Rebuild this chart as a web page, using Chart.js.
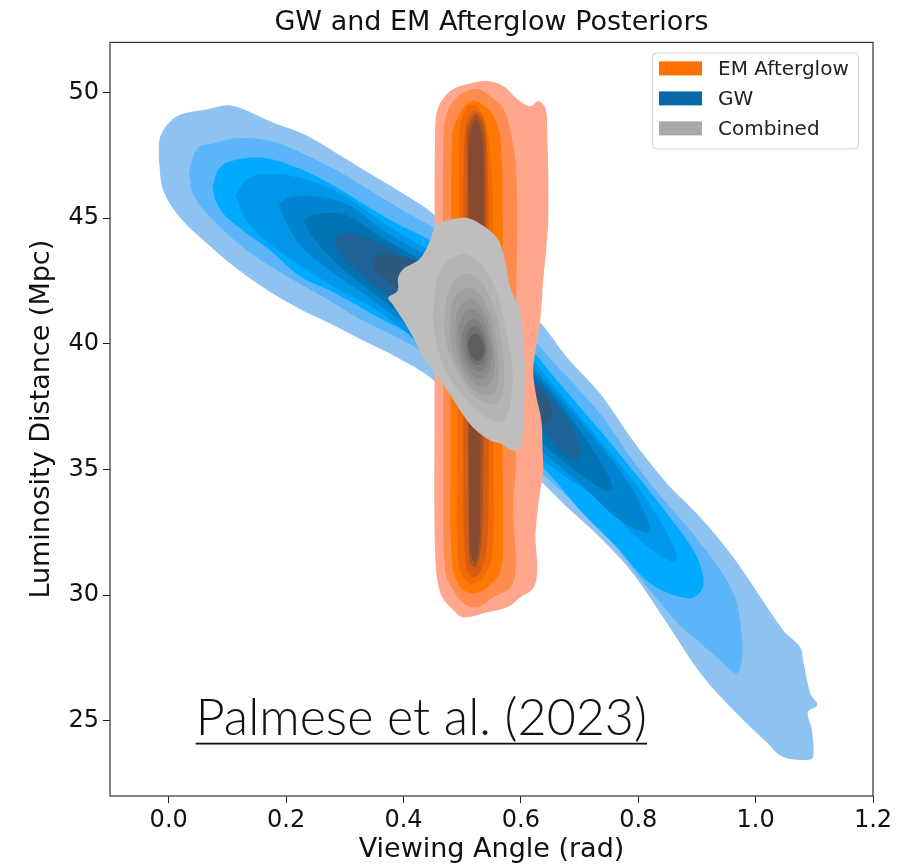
<!DOCTYPE html>
<html>
<head>
<meta charset="utf-8">
<script src="https://cdn.jsdelivr.net/npm/chart.js@4.4.0/dist/chart.umd.min.js"></script>
<style>
  html, body { margin: 0; padding: 0; background: #fff; }
</style>
</head>
<body>
<canvas id="kde" width="908" height="868"></canvas>
<script>
const xTicks = [0, 0.2, 0.4, 0.6, 0.8, 1.0, 1.2];
const yTicks = [25, 30, 35, 40, 45, 50];

// GW posterior contours, outermost level first: [angle (rad), distance (Mpc)]
const gw1 = [[-0.017,47.40],[-0.014,48.27],[0.007,48.95],[0.029,49.19],[0.066,49.34],[0.100,49.50],[0.123,49.38],[0.179,48.79],[0.230,48.35],[0.288,47.56],[0.344,46.76],[0.400,45.97],[0.451,45.17],[0.514,43.70],[0.565,42.51],[0.638,40.72],[0.679,39.45],[0.735,38.02],[0.791,36.15],[0.849,34.44],[0.906,33.09],[0.962,31.50],[1.047,28.60],[1.076,27.92],[1.081,27.40],[1.093,26.09],[1.105,25.62],[1.089,25.34],[1.096,24.62],[1.098,23.55],[1.088,23.43],[1.047,23.55],[1.020,24.11],[0.962,25.42],[0.906,26.89],[0.849,28.88],[0.791,30.86],[0.735,32.29],[0.679,33.49],[0.638,34.44],[0.565,36.03],[0.514,37.14],[0.446,38.65],[0.390,39.45],[0.332,40.12],[0.276,40.80],[0.220,41.43],[0.162,42.23],[0.106,43.18],[0.060,44.10],[0.020,45.01],[-0.009,46.09]];
const gw2 = [[0.034,46.80],[0.049,47.79],[0.077,47.99],[0.123,48.19],[0.174,48.07],[0.230,47.56],[0.288,46.88],[0.344,46.09],[0.400,45.29],[0.451,44.61],[0.514,43.22],[0.582,41.32],[0.638,39.73],[0.735,37.22],[0.791,35.35],[0.849,33.64],[0.906,32.06],[0.962,30.07],[0.977,28.20],[0.974,27.09],[0.965,26.89],[0.940,27.40],[0.906,28.08],[0.866,28.92],[0.820,30.19],[0.735,32.65],[0.638,34.80],[0.565,36.43],[0.480,38.33],[0.434,39.61],[0.390,40.24],[0.322,41.04],[0.254,41.99],[0.186,42.91],[0.128,43.82],[0.077,44.89],[0.043,45.89]];
const gw3 = [[0.075,46.28],[0.085,46.96],[0.106,47.28],[0.162,47.40],[0.220,47.00],[0.276,46.36],[0.332,45.57],[0.390,44.77],[0.446,44.10],[0.514,42.71],[0.582,40.92],[0.638,39.21],[0.735,36.55],[0.791,34.96],[0.849,33.25],[0.894,31.78],[0.911,30.70],[0.906,30.11],[0.883,29.87],[0.820,30.47],[0.764,31.90],[0.706,33.25],[0.638,35.08],[0.565,36.63],[0.497,38.25],[0.407,40.40],[0.361,41.00],[0.276,42.11],[0.225,42.67],[0.174,43.70],[0.100,45.01],[0.080,45.69]];
const gw4 = [[0.114,45.89],[0.131,46.48],[0.157,46.76],[0.225,46.60],[0.293,45.97],[0.361,44.89],[0.480,43.10],[0.565,41.00],[0.638,38.85],[0.735,36.15],[0.791,34.56],[0.837,32.97],[0.866,31.58],[0.860,31.30],[0.809,32.06],[0.735,33.76],[0.638,35.35],[0.565,37.03],[0.480,39.01],[0.361,41.24],[0.293,42.11],[0.225,43.10],[0.165,44.10],[0.131,44.97]];
const gw5 = [[0.187,45.57],[0.208,45.85],[0.259,45.85],[0.310,45.49],[0.361,44.58],[0.480,42.83],[0.565,40.52],[0.638,38.61],[0.735,35.95],[0.786,34.36],[0.820,32.77],[0.815,32.49],[0.769,32.97],[0.701,34.44],[0.638,35.67],[0.565,37.34],[0.480,39.33],[0.361,41.51],[0.276,42.91],[0.225,43.90],[0.199,44.89]];
const gw6 = [[0.230,44.89],[0.250,45.17],[0.301,45.13],[0.361,44.26],[0.480,42.51],[0.565,40.20],[0.638,38.41],[0.701,36.55],[0.744,34.96],[0.756,34.28],[0.749,34.12],[0.718,34.52],[0.667,35.43],[0.638,35.99],[0.565,37.66],[0.480,39.65],[0.361,41.80],[0.293,43.06],[0.250,44.10]];
const gw7 = [[0.281,44.22],[0.306,44.46],[0.361,43.98],[0.480,42.19],[0.565,39.92],[0.638,38.21],[0.676,37.14],[0.698,36.15],[0.701,35.55],[0.696,35.35],[0.672,35.63],[0.638,36.55],[0.565,37.98],[0.480,39.96],[0.361,42.11],[0.310,43.14],[0.289,43.70]];
const gw8 = [[0.344,43.38],[0.369,43.58],[0.429,43.22],[0.480,42.11],[0.565,39.73],[0.638,38.02],[0.654,37.34],[0.647,36.86],[0.616,36.94],[0.565,38.14],[0.480,40.28],[0.429,41.51],[0.378,42.43],[0.352,42.91]];

// EM afterglow contours
const em1 = [[0.453,43.70],[0.454,48.47],[0.458,49.34],[0.471,49.86],[0.485,50.14],[0.509,50.34],[0.543,50.46],[0.570,50.26],[0.594,49.74],[0.616,49.46],[0.630,49.66],[0.642,49.38],[0.645,48.47],[0.647,45.17],[0.643,43.70],[0.638,42.51],[0.633,40.92],[0.625,39.73],[0.621,38.93],[0.626,37.94],[0.635,36.94],[0.637,35.75],[0.638,34.96],[0.633,34.16],[0.628,33.25],[0.625,32.29],[0.628,30.98],[0.621,30.27],[0.599,29.91],[0.577,29.51],[0.543,29.31],[0.502,29.11],[0.485,29.39],[0.463,30.07],[0.454,31.66],[0.453,37.74]];
const em2 = [[0.468,41.71],[0.468,48.07],[0.475,49.26],[0.497,49.94],[0.526,50.14],[0.548,49.86],[0.570,49.38],[0.582,48.47],[0.591,47.16],[0.594,44.89],[0.592,41.71],[0.591,37.74],[0.591,34.96],[0.587,33.64],[0.591,30.98],[0.582,30.31],[0.553,29.91],[0.526,29.51],[0.502,29.67],[0.485,30.19],[0.471,30.98],[0.468,34.96]];
const em3 = [[0.482,41.71],[0.483,48.19],[0.492,48.99],[0.514,49.66],[0.534,49.54],[0.551,49.15],[0.565,48.19],[0.569,44.89],[0.569,37.74],[0.569,34.96],[0.570,32.29],[0.565,30.98],[0.543,30.31],[0.519,30.07],[0.497,30.31],[0.483,31.26],[0.480,34.96]];
const em4 = [[0.494,41.71],[0.495,46.48],[0.497,48.75],[0.511,49.46],[0.528,49.38],[0.543,48.47],[0.551,46.48],[0.553,41.71],[0.553,34.96],[0.551,31.66],[0.536,30.70],[0.511,30.47],[0.494,31.26],[0.492,34.96]];
const em5 = [[0.502,45.69],[0.506,48.67],[0.519,49.26],[0.534,49.07],[0.541,48.27],[0.545,45.69],[0.545,34.96],[0.543,32.29],[0.534,31.10],[0.519,30.70],[0.506,31.26],[0.502,34.96]];
const em6 = [[0.509,47.28],[0.509,48.47],[0.523,49.15],[0.536,48.67],[0.540,47.28],[0.540,41.71],[0.536,34.96],[0.533,32.17],[0.524,31.14],[0.514,31.26],[0.511,32.17],[0.509,41.71]];
const em7 = [[0.511,45.69],[0.512,48.07],[0.523,48.95],[0.534,48.27],[0.536,45.69],[0.534,41.71],[0.531,34.96],[0.529,31.98],[0.521,31.30],[0.514,31.78],[0.512,34.96],[0.511,41.71]];

// combined posterior contours
const comb1 = [[0.454,44.77],[0.485,44.97],[0.509,45.01],[0.531,44.77],[0.553,44.38],[0.565,43.98],[0.574,43.18],[0.582,42.23],[0.599,41.32],[0.604,40.00],[0.608,38.65],[0.604,37.34],[0.603,36.27],[0.599,35.87],[0.587,35.75],[0.565,36.03],[0.548,36.15],[0.519,36.66],[0.497,37.34],[0.475,38.14],[0.451,38.93],[0.434,39.45],[0.417,40.24],[0.400,40.92],[0.381,41.59],[0.374,41.83],[0.390,42.11],[0.391,42.63],[0.400,42.99],[0.424,43.30],[0.434,43.58],[0.443,43.98]];
const comb2 = [[0.475,43.30],[0.502,43.58],[0.526,43.30],[0.548,42.63],[0.565,41.59],[0.577,40.24],[0.586,38.93],[0.582,37.62],[0.570,36.94],[0.543,37.06],[0.514,37.62],[0.485,38.41],[0.463,39.45],[0.451,40.80],[0.454,42.11],[0.463,42.91]];
const comb3 = [[0.485,42.51],[0.509,42.79],[0.531,42.51],[0.548,41.83],[0.562,40.80],[0.570,39.45],[0.570,38.14],[0.557,37.62],[0.531,37.74],[0.509,38.25],[0.485,39.21],[0.471,40.24],[0.471,41.43],[0.477,42.11]];
const comb4 = [[0.492,42.03],[0.511,42.23],[0.531,41.95],[0.546,41.24],[0.558,40.24],[0.562,39.13],[0.558,38.21],[0.543,37.94],[0.521,38.14],[0.500,38.77],[0.483,39.73],[0.480,40.84],[0.483,41.63]];
const comb5 = [[0.499,41.59],[0.514,41.80],[0.531,41.51],[0.545,40.84],[0.553,40.00],[0.555,39.05],[0.548,38.45],[0.533,38.29],[0.516,38.53],[0.500,39.09],[0.490,39.92],[0.489,40.84],[0.492,41.35]];
const comb6 = [[0.504,41.24],[0.517,41.39],[0.533,41.12],[0.543,40.52],[0.550,39.81],[0.548,39.09],[0.540,38.69],[0.526,38.61],[0.512,38.89],[0.500,39.41],[0.495,40.12],[0.495,40.76]];
const comb7 = [[0.509,40.88],[0.521,41.00],[0.533,40.72],[0.541,40.20],[0.545,39.65],[0.541,39.17],[0.531,38.89],[0.519,38.97],[0.509,39.29],[0.502,39.81],[0.500,40.36]];
const comb8 = [[0.512,40.60],[0.524,40.68],[0.534,40.40],[0.540,39.96],[0.540,39.53],[0.533,39.21],[0.523,39.17],[0.512,39.41],[0.507,39.85],[0.507,40.28]];
const comb9 = [[0.516,40.36],[0.526,40.40],[0.534,40.12],[0.538,39.77],[0.534,39.45],[0.526,39.33],[0.516,39.49],[0.511,39.81],[0.511,40.12]];

const gwColors = ['#8dc2f1', '#5cb5f9', '#00aaff', '#0097ea', '#0084cf', '#0073b3', '#1f6499', '#2c5a7f'];
const emColors = ['#ffa68c', '#ff8c4e', '#ff7804', '#f06a06', '#d45d13', '#a8521f', '#874a31'];
const combColors = ['#bebebe', '#b4b4b4', '#aaaaaa', '#a0a0a0', '#959595', '#8a8a8a', '#7e7e7e', '#707070', '#5d5d5d'];

const legendLabels = ['EM Afterglow', 'GW', 'Combined'];
const legendColors = ['#ff7000', '#0a69a8', '#a9a9a9'];
const note = 'Palmese et al. (2023)';

let datasets = [];

function addLevels(levels, colors, name) {
    levels.forEach((pts, i) => {
        let closed = pts.concat([pts[0]]);
        datasets.push({
            label: name + ' ' + (i + 1),
            data: closed.map(p => ({x: p[0], y: p[1]})),
            showLine: true,
            fill: 'shape',
            backgroundColor: colors[i],
            borderWidth: 0,
            pointRadius: 0,
            pointHoverRadius: 0,
            tension: 0.35,
            order: -datasets.length   // later levels on top
        });
    });
}

addLevels([gw1, gw2, gw3, gw4, gw5, gw6, gw7, gw8], gwColors, 'GW');
addLevels([em1, em2, em3, em4, em5, em6, em7], emColors, 'EM Afterglow');
addLevels([comb1, comb2, comb3, comb4, comb5, comb6, comb7, comb8, comb9], combColors, 'Combined');

// frame, citation and boxed legend
const extras = {
    id: 'extras',
    afterDatasetsDraw(chart) {
        let ctx = chart.ctx;
        let a = chart.chartArea;
        let sx = chart.scales.x;
        let sy = chart.scales.y;
        ctx.save();

        ctx.strokeStyle = '#333';
        ctx.lineWidth = 1.2;
        ctx.strokeRect(a.left, a.top, a.right - a.left, a.bottom - a.top);

        let x0 = sx.getPixelForValue(0.046);
        let x1 = sx.getPixelForValue(0.815);
        let yb = sy.getPixelForValue(24.42);
        ctx.font = '300 40px Lato';
        let size = 40 * (x1 - x0) / ctx.measureText(note).width;
        ctx.font = '300 ' + size.toFixed(1) + 'px Lato';
        ctx.fillStyle = '#111';
        ctx.textBaseline = 'alphabetic';
        ctx.textAlign = 'left';
        ctx.fillText(note, x0, yb);
        ctx.fillRect(x0, yb + size * 0.15, x1 - x0, 1.8);

        let bw = 206, bh = 96;
        let bx = a.right - 15 - bw, by = a.top + 10;
        ctx.beginPath();
        ctx.roundRect(bx + 0.5, by + 0.5, bw, bh, 4);
        ctx.fillStyle = 'rgba(255,255,255,0.8)';
        ctx.fill();
        ctx.strokeStyle = '#d4d4d4';
        ctx.lineWidth = 1;
        ctx.stroke();
        ctx.font = '20px "DejaVu Sans"';
        ctx.textBaseline = 'middle';
        legendLabels.forEach((t, i) => {
            let cy = by + 16 + i * 30;
            ctx.fillStyle = legendColors[i];
            ctx.fillRect(bx + 7, cy - 7, 43, 14);
            ctx.fillStyle = '#222';
            ctx.fillText(t, bx + 66, cy + 1);
        });
        ctx.restore();
    }
};

let tickFont = {family: 'DejaVu Sans', size: 24};
let labelFont = {family: 'DejaVu Sans', size: 27};

new Chart(document.getElementById('kde'), {
    type: 'scatter',
    data: {datasets: datasets},
    options: {
        responsive: false,
        animation: false,
        devicePixelRatio: 1,
        events: [],
        layout: {padding: {left: 0, right: 35, top: 0, bottom: 0}},
        plugins: {
            legend: {display: false},
            tooltip: {enabled: false},
            title: {
                display: true,
                text: 'GW and EM Afterglow Posteriors',
                fullSize: false,
                color: '#111',
                font: {family: 'DejaVu Sans', size: 27, weight: 'normal'},
                padding: {top: 7, bottom: 3}
            }
        },
        scales: {
            x: {
                type: 'linear',
                min: -0.1,
                max: 1.2,
                afterBuildTicks: s => { s.ticks = xTicks.map(v => ({value: v})); },
                afterFit: s => { s.height = 72; },
                grid: {drawOnChartArea: false, tickLength: 7, color: '#222'},
                border: {display: false},
                ticks: {color: '#111', font: tickFont, padding: 3, maxRotation: 0, callback: v => v.toFixed(1)},
                title: {display: true, text: 'Viewing Angle (rad)', color: '#111', font: labelFont, padding: {top: 0, bottom: 2}}
            },
            y: {
                type: 'linear',
                min: 22,
                max: 52,
                afterBuildTicks: s => { s.ticks = yTicks.map(v => ({value: v})); },
                afterFit: s => { s.width = 110; },
                grid: {drawOnChartArea: false, tickLength: 7, color: '#222'},
                border: {display: false},
                ticks: {color: '#111', font: tickFont, padding: 4, callback: v => String(v)},
                title: {display: true, text: 'Luminosity Distance (Mpc)', color: '#111', font: labelFont, padding: {top: 26, bottom: 0}}
            }
        }
    },
    plugins: [extras]
});
</script>
</body>
</html>
